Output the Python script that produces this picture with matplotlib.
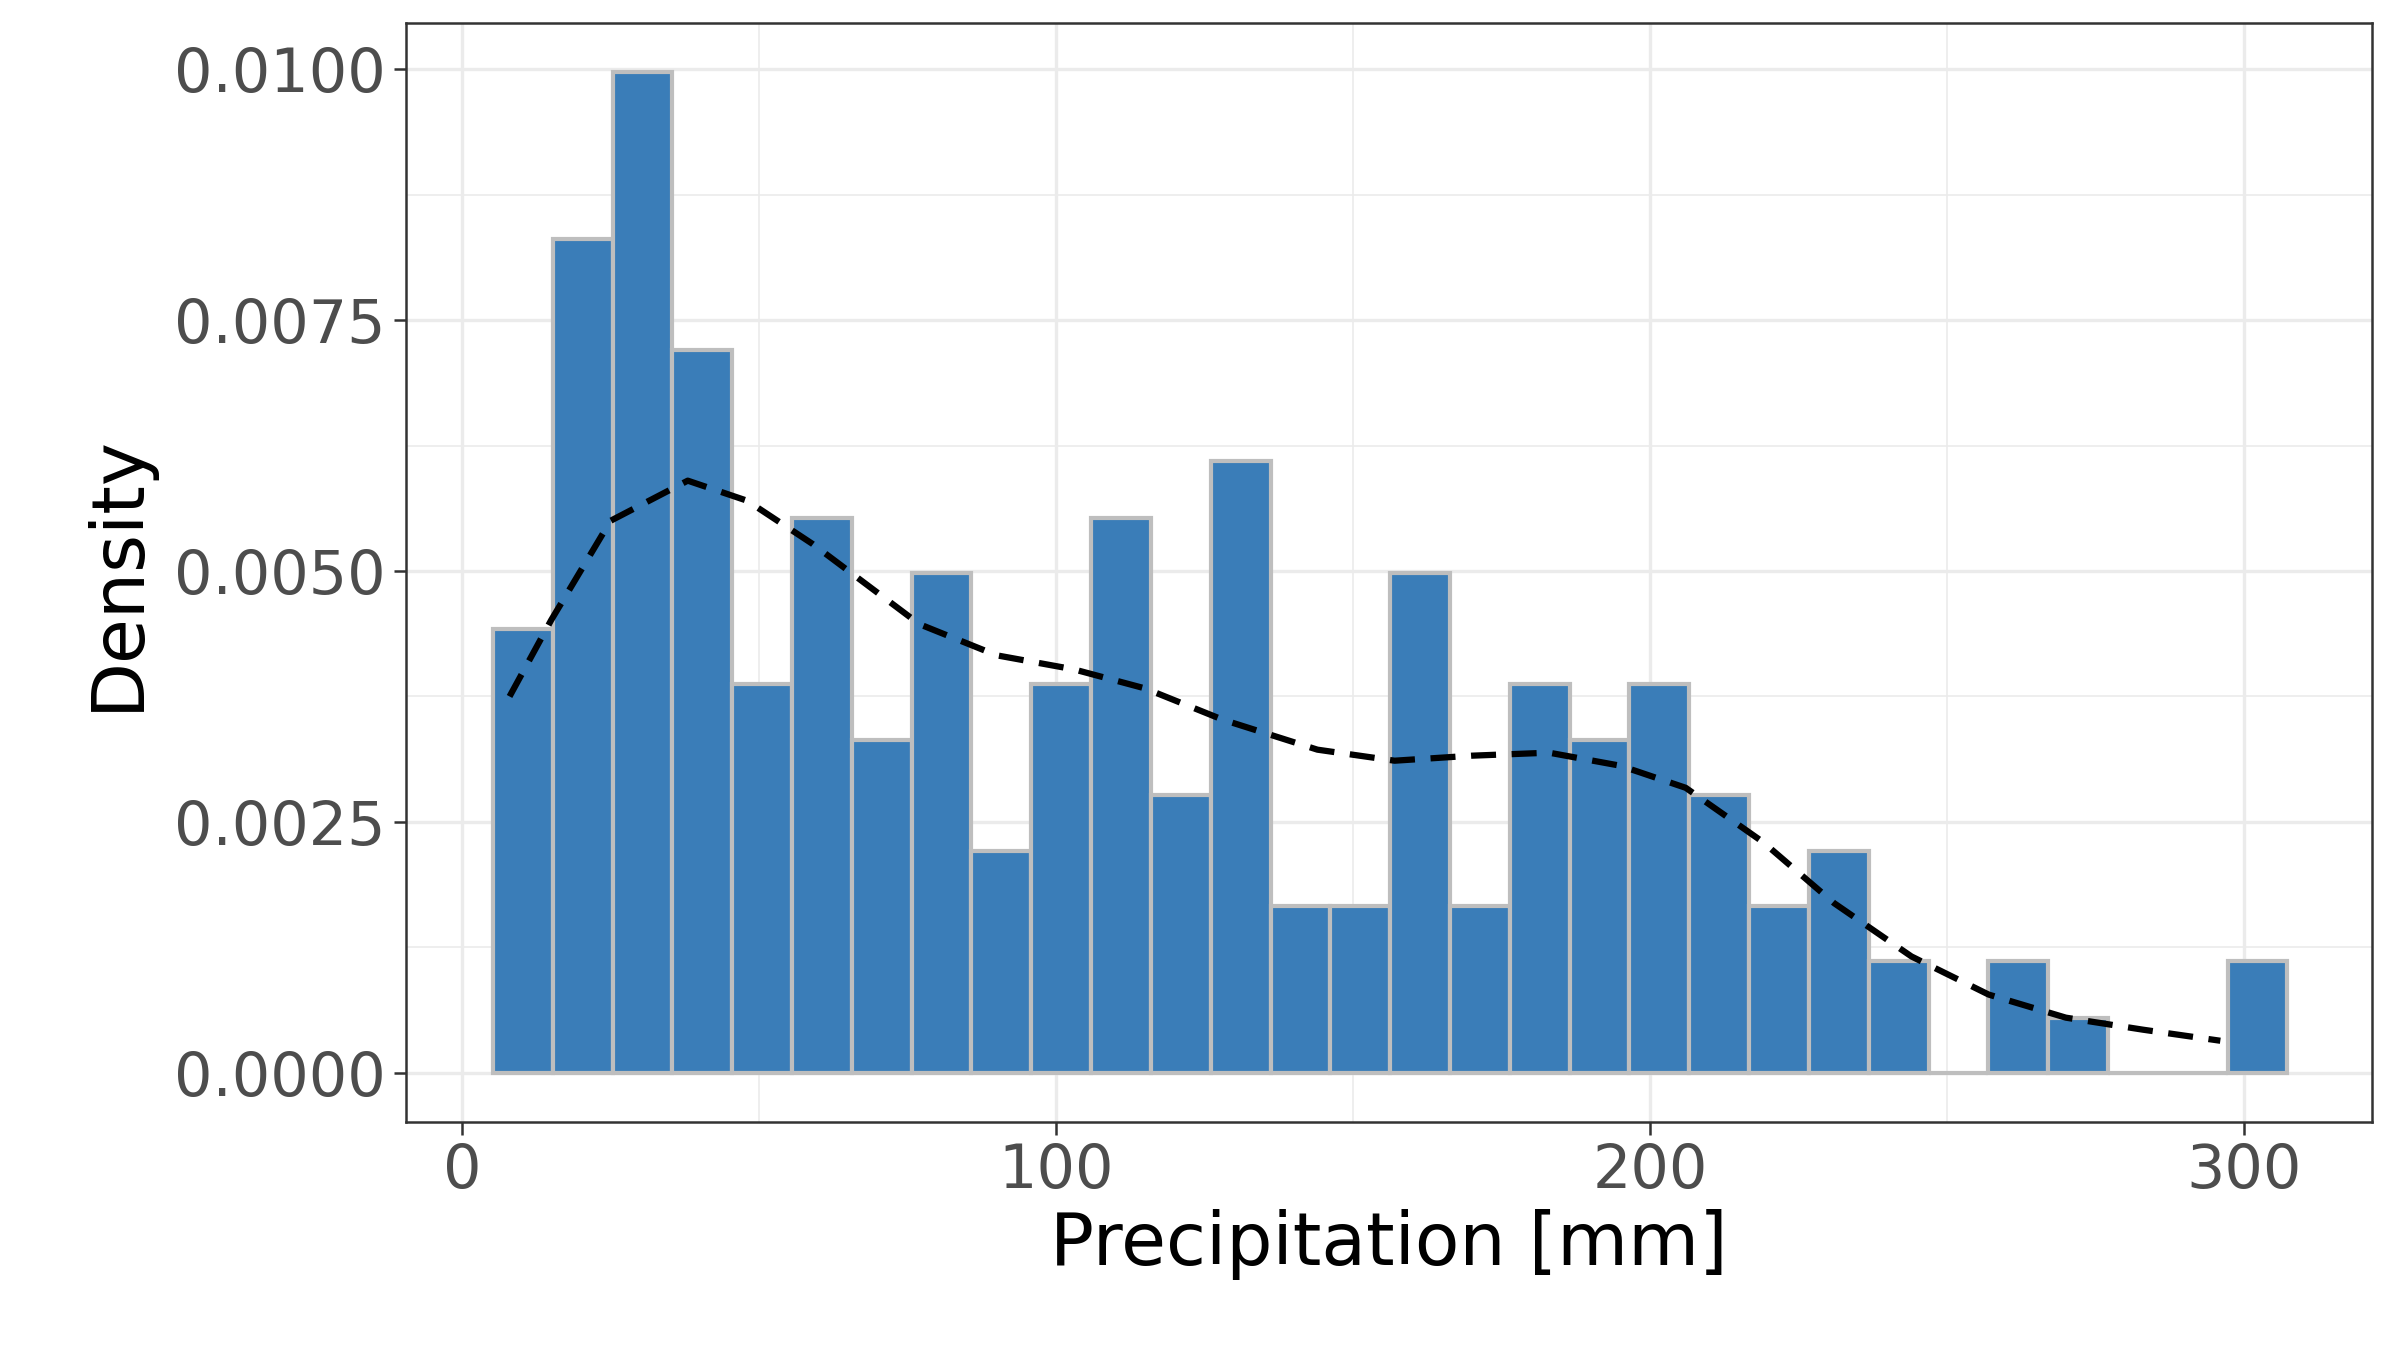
import matplotlib
matplotlib.use("Agg")
import matplotlib.pyplot as plt
import numpy as np

bin_start = 5.2
bin_width = 10.07
densities = [0.00442, 0.00831, 0.00997, 0.0072, 0.00387, 0.00553, 0.00332, 0.00498,
             0.00221, 0.00387, 0.00553, 0.00277, 0.0061, 0.00166, 0.00166, 0.00498,
             0.00166, 0.00387, 0.00332, 0.00387, 0.00277, 0.00166, 0.00221, 0.00111,
             0.0, 0.00111, 0.00055, 0.0, 0.0, 0.00111]
kde_x = [8, 15, 25, 38, 48, 59, 77, 90, 103, 115, 128, 144, 157, 170, 183, 195,
         206, 219, 231, 244, 257, 270, 283, 296]
kde_y = [0.00375, 0.00451, 0.0055, 0.0059, 0.0057, 0.00527, 0.00447, 0.00416,
         0.00402, 0.00383, 0.00352, 0.00322, 0.00311, 0.00316, 0.00319, 0.00306,
         0.00284, 0.0023, 0.00169, 0.00116, 0.00078, 0.00055, 0.00043, 0.00032]

fig = plt.figure(figsize=(16, 9), dpi=150)
ax = fig.add_axes([0.169, 0.169, 0.8195, 0.814])
lefts = bin_start + bin_width * np.arange(len(densities))
ax.bar(lefts, densities, width=bin_width, align='edge', color='#3A7DB8',
       edgecolor='#BEBEBE', linewidth=2, zorder=2)
ax.plot(kde_x, kde_y, color='black', linestyle=(0, (4, 2.5)), linewidth=3, zorder=3)

ax.set_xlim(-9.5, 321.6)
ax.set_ylim(-0.000488, 0.01046)
ax.set_xticks([0, 100, 200, 300])
ax.set_xticks([50, 150, 250], minor=True)
ax.set_yticks([0, 0.0025, 0.005, 0.0075, 0.01])
ax.set_yticks([0.00125, 0.00375, 0.00625, 0.00875], minor=True)
ax.set_yticklabels(['0.0000', '0.0025', '0.0050', '0.0075', '0.0100'])
ax.grid(which='major', color='#EBEBEB', linewidth=1.6, zorder=0)
ax.grid(which='minor', color='#EBEBEB', linewidth=0.8, zorder=0)
ax.set_axisbelow(True)
ax.tick_params(axis='both', which='major', labelsize=29, labelcolor='#4D4D4D',
               length=6, width=1.2, color='#333333')
ax.tick_params(which='minor', length=0)
for s in ax.spines.values():
    s.set_color('#333333'); s.set_linewidth(1.2)
ax.set_xlabel('Precipitation [mm]', fontsize=35, labelpad=4)
ax.set_ylabel('Density', fontsize=35, labelpad=10)
fig.savefig('out.png', dpi=150)
